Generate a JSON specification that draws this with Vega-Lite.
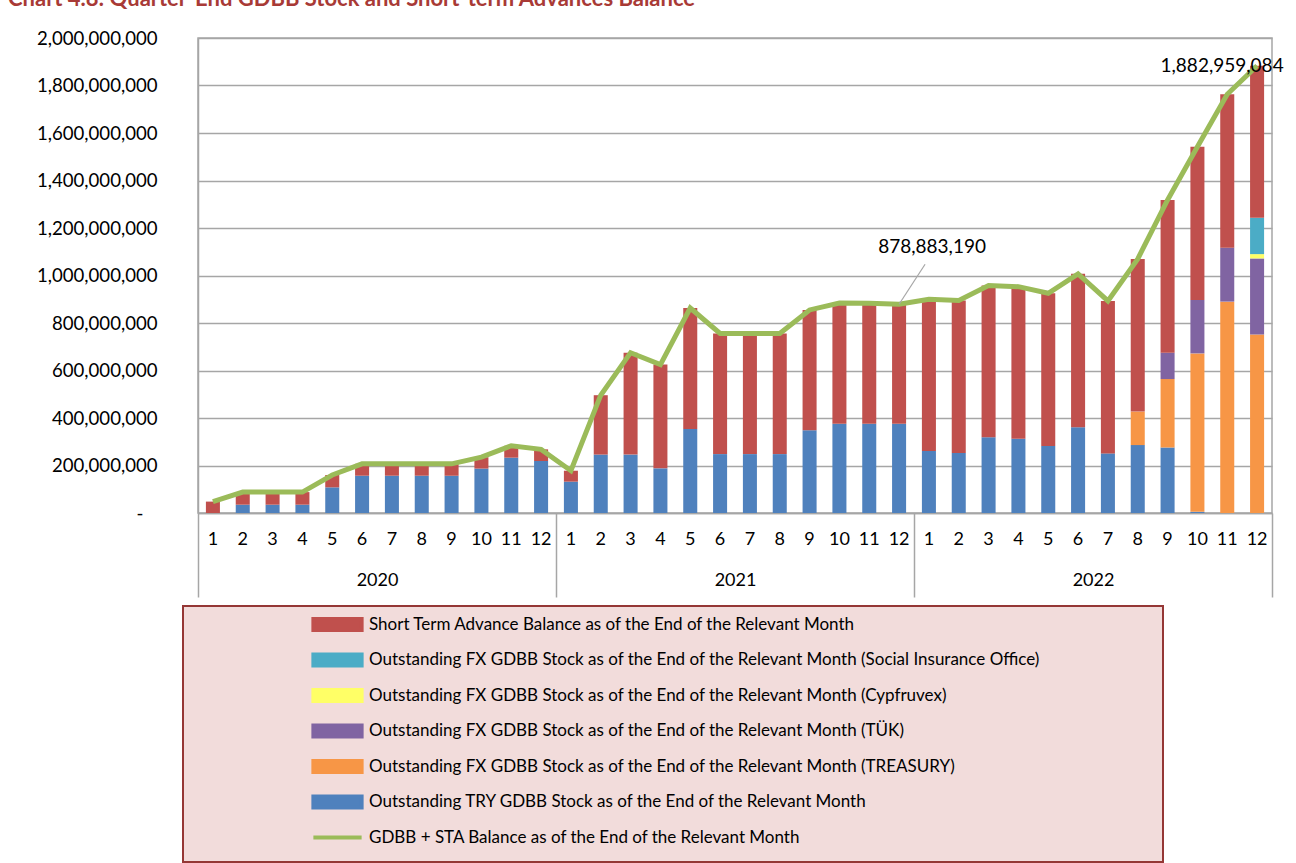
{
  "$schema": "https://vega.github.io/schema/vega-lite/v6.json",
  "width": 1074,
  "height": 475,
  "autosize": {"type": "none"},
  "padding": {"left": 198, "top": 38, "right": 24, "bottom": 350},
  "background": "white",
  "config": {
    "font": "Lato",
    "view": {"stroke": "#a6a6a6", "strokeWidth": 1.5},
    "axis": {"labelFont": "Lato", "labelColor": "#000000", "labelFontSize": 18, "title": null}
  },
  "title": {
    "text": "Chart 4.8: Quarter-End GDBB Stock and Short-term Advances Balance",
    "anchor": "start",
    "frame": "group",
    "font": "Lato",
    "fontSize": 22,
    "fontWeight": "bold",
    "color": "#A83A36",
    "dx": -190,
    "offset": 18
  },
  "data": {
    "values": [
      {"y": 2020, "ym": "2020-01", "tryv": 0, "tre": 0, "tuk": 0, "cyp": 0, "sio": 0, "sta": 48000000, "total": 48000000},
      {"y": 2020, "ym": "2020-02", "tryv": 35000000, "tre": 0, "tuk": 0, "cyp": 0, "sio": 0, "sta": 53000000, "total": 88000000},
      {"y": 2020, "ym": "2020-03", "tryv": 35000000, "tre": 0, "tuk": 0, "cyp": 0, "sio": 0, "sta": 53000000, "total": 88000000},
      {"y": 2020, "ym": "2020-04", "tryv": 35000000, "tre": 0, "tuk": 0, "cyp": 0, "sio": 0, "sta": 53000000, "total": 88000000},
      {"y": 2020, "ym": "2020-05", "tryv": 108000000, "tre": 0, "tuk": 0, "cyp": 0, "sio": 0, "sta": 52000000, "total": 160000000},
      {"y": 2020, "ym": "2020-06", "tryv": 157000000, "tre": 0, "tuk": 0, "cyp": 0, "sio": 0, "sta": 50000000, "total": 207000000},
      {"y": 2020, "ym": "2020-07", "tryv": 157000000, "tre": 0, "tuk": 0, "cyp": 0, "sio": 0, "sta": 50000000, "total": 207000000},
      {"y": 2020, "ym": "2020-08", "tryv": 157000000, "tre": 0, "tuk": 0, "cyp": 0, "sio": 0, "sta": 50000000, "total": 207000000},
      {"y": 2020, "ym": "2020-09", "tryv": 157000000, "tre": 0, "tuk": 0, "cyp": 0, "sio": 0, "sta": 50000000, "total": 207000000},
      {"y": 2020, "ym": "2020-10", "tryv": 187000000, "tre": 0, "tuk": 0, "cyp": 0, "sio": 0, "sta": 48000000, "total": 235000000},
      {"y": 2020, "ym": "2020-11", "tryv": 233000000, "tre": 0, "tuk": 0, "cyp": 0, "sio": 0, "sta": 50000000, "total": 283000000},
      {"y": 2020, "ym": "2020-12", "tryv": 219000000, "tre": 0, "tuk": 0, "cyp": 0, "sio": 0, "sta": 49000000, "total": 268000000},
      {"y": 2021, "ym": "2021-01", "tryv": 132000000, "tre": 0, "tuk": 0, "cyp": 0, "sio": 0, "sta": 46000000, "total": 178000000},
      {"y": 2021, "ym": "2021-02", "tryv": 246000000, "tre": 0, "tuk": 0, "cyp": 0, "sio": 0, "sta": 250000000, "total": 496000000},
      {"y": 2021, "ym": "2021-03", "tryv": 246000000, "tre": 0, "tuk": 0, "cyp": 0, "sio": 0, "sta": 429000000, "total": 675000000},
      {"y": 2021, "ym": "2021-04", "tryv": 188000000, "tre": 0, "tuk": 0, "cyp": 0, "sio": 0, "sta": 437000000, "total": 625000000},
      {"y": 2021, "ym": "2021-05", "tryv": 354000000, "tre": 0, "tuk": 0, "cyp": 0, "sio": 0, "sta": 509000000, "total": 863000000},
      {"y": 2021, "ym": "2021-06", "tryv": 248000000, "tre": 0, "tuk": 0, "cyp": 0, "sio": 0, "sta": 508000000, "total": 756000000},
      {"y": 2021, "ym": "2021-07", "tryv": 248000000, "tre": 0, "tuk": 0, "cyp": 0, "sio": 0, "sta": 508000000, "total": 756000000},
      {"y": 2021, "ym": "2021-08", "tryv": 248000000, "tre": 0, "tuk": 0, "cyp": 0, "sio": 0, "sta": 508000000, "total": 756000000},
      {"y": 2021, "ym": "2021-09", "tryv": 348000000, "tre": 0, "tuk": 0, "cyp": 0, "sio": 0, "sta": 507000000, "total": 855000000},
      {"y": 2021, "ym": "2021-10", "tryv": 376000000, "tre": 0, "tuk": 0, "cyp": 0, "sio": 0, "sta": 508000000, "total": 884000000},
      {"y": 2021, "ym": "2021-11", "tryv": 376000000, "tre": 0, "tuk": 0, "cyp": 0, "sio": 0, "sta": 507000000, "total": 883000000},
      {"y": 2021, "ym": "2021-12", "tryv": 376000000, "tre": 0, "tuk": 0, "cyp": 0, "sio": 0, "sta": 502883190, "total": 878883190},
      {"y": 2022, "ym": "2022-01", "tryv": 261000000, "tre": 0, "tuk": 0, "cyp": 0, "sio": 0, "sta": 639000000, "total": 900000000},
      {"y": 2022, "ym": "2022-02", "tryv": 253000000, "tre": 0, "tuk": 0, "cyp": 0, "sio": 0, "sta": 642000000, "total": 895000000},
      {"y": 2022, "ym": "2022-03", "tryv": 319000000, "tre": 0, "tuk": 0, "cyp": 0, "sio": 0, "sta": 639000000, "total": 958000000},
      {"y": 2022, "ym": "2022-04", "tryv": 313000000, "tre": 0, "tuk": 0, "cyp": 0, "sio": 0, "sta": 640000000, "total": 953000000},
      {"y": 2022, "ym": "2022-05", "tryv": 282000000, "tre": 0, "tuk": 0, "cyp": 0, "sio": 0, "sta": 643000000, "total": 925000000},
      {"y": 2022, "ym": "2022-06", "tryv": 361000000, "tre": 0, "tuk": 0, "cyp": 0, "sio": 0, "sta": 646000000, "total": 1007000000},
      {"y": 2022, "ym": "2022-07", "tryv": 251000000, "tre": 0, "tuk": 0, "cyp": 0, "sio": 0, "sta": 642000000, "total": 893000000},
      {"y": 2022, "ym": "2022-08", "tryv": 286000000, "tre": 141000000, "tuk": 0, "cyp": 0, "sio": 0, "sta": 643000000, "total": 1070000000},
      {"y": 2022, "ym": "2022-09", "tryv": 276000000, "tre": 288000000, "tuk": 111000000, "cyp": 0, "sio": 0, "sta": 643000000, "total": 1318000000},
      {"y": 2022, "ym": "2022-10", "tryv": 5000000, "tre": 667000000, "tuk": 225000000, "cyp": 0, "sio": 0, "sta": 645000000, "total": 1542000000},
      {"y": 2022, "ym": "2022-11", "tryv": 0, "tre": 890000000, "tuk": 227000000, "cyp": 0, "sio": 0, "sta": 646000000, "total": 1763000000},
      {"y": 2022, "ym": "2022-12", "tryv": 0, "tre": 752000000, "tuk": 320000000, "cyp": 18000000, "sio": 153000000, "sta": 639959084, "total": 1882959084}
    ]
  },
  "layer": [
    {
      "layer": [
        {
          "transform": [
            {"fold": ["tryv", "tre", "tuk", "cyp", "sio", "sta"], "as": ["series", "value"]},
            {"calculate": "indexof(['tryv','tre','tuk','cyp','sio','sta'], datum.series)", "as": "ord"}
          ],
          "mark": {"type": "bar", "width": {"band": 0.47}},
          "encoding": {
            "x": {
              "field": "ym", "type": "ordinal", "sort": null,
              "scale": {"type": "band", "paddingInner": 0, "paddingOuter": 0},
              "axis": {
                "orient": "bottom",
                "labelExpr": "toNumber(split(datum.label, '-')[1])",
                "labelAngle": 0,
                "ticks": false,
                "labelPadding": 17,
                "domainColor": "#a6a6a6",
                "domainWidth": 1.5,
                "grid": false
              }
            },
            "y": {
              "field": "value", "type": "quantitative", "stack": "zero",
              "scale": {"domain": [0, 2000000000], "nice": false},
              "axis": {
                "values": [0, 200000000, 400000000, 600000000, 800000000, 1000000000, 1200000000, 1400000000, 1600000000, 1800000000, 2000000000],
                "labelExpr": "datum.value == 0 ? '-\u2800' : format(datum.value, ',')",
                "labelFontSize": 18.6,
                "ticks": false,
                "labelPadding": 41,
                "domainColor": "#a6a6a6",
                "domainWidth": 1.5,
                "gridColor": "#a6a6a6",
                "gridWidth": 1.5
              }
            },
            "color": {
              "field": "series", "type": "nominal",
              "scale": {
                "domain": ["sta", "sio", "cyp", "tuk", "tre", "tryv", "line"],
                "range": ["#C0504D", "#4BACC6", "#FFFF66", "#8064A2", "#F79646", "#4F81BD", "#9BBB59"]
              },
              "legend": {
                "orient": "none",
                "legendX": -15,
                "legendY": 568,
                "title": null,
                "fillColor": "#F2DCDB",
                "strokeColor": "#953735",
                "padding": 10,
                "symbolOffset": 136,
                "labelOffset": 23,
                "rowPadding": 6.5,
                "symbolSize": 144,
                "labelFont": "Lato",
                "labelFontSize": 17,
                "labelColor": "#000000",
                "labelLimit": 0,
                "labelExpr": "(datum.label == 'sta' ? 'Short Term Advance Balance as of the End of the Relevant Month' : datum.label == 'sio' ? 'Outstanding FX GDBB Stock as of the End of the Relevant Month (Social Insurance Office)' : datum.label == 'cyp' ? 'Outstanding FX GDBB Stock as of the End of the Relevant Month (Cypfruvex)' : datum.label == 'tuk' ? 'Outstanding FX GDBB Stock as of the End of the Relevant Month (TÜK)' : datum.label == 'tre' ? 'Outstanding FX GDBB Stock as of the End of the Relevant Month (TREASURY)' : datum.label == 'tryv' ? 'Outstanding TRY GDBB Stock as of the End of the Relevant Month' : 'GDBB + STA Balance as of the End of the Relevant Month') + '\u00a0\u2800\u2800\u2800\u2800\u2800\u2800\u2800\u2800\u2800'",
                "encode": {
                  "legend": {"update": {"strokeWidth": {"value": 2}}},
                  "symbols": {
                    "update": {
                      "shape": [{"test": "datum.value == 'line'", "value": "M-4.02,-0.93M-4.02,0H4.02M4.02,0.93"}, {"value": "M-4.02,-0.93H4.02V0.93H-4.02Z"}],
                      "fill": [{"test": "datum.value == 'line'", "value": "transparent"}, {"scale": "color", "field": "value"}],
                      "stroke": [{"test": "datum.value == 'line'", "value": "#9BBB59"}, {"value": "transparent"}],
                      "strokeWidth": {"value": 4},
                      "opacity": {"value": 1},
                      "fillOpacity": {"value": 1}
                    }
                  }
                }
              }
            },
            "order": {"field": "ord", "type": "quantitative", "sort": "ascending"}
          }
        },
        {
          "mark": {"type": "line", "strokeWidth": 5},
          "encoding": {
            "x": {"field": "ym", "type": "ordinal", "sort": null},
            "y": {"field": "total", "type": "quantitative"},
            "color": {"datum": "line"}
          }
        },
        {
          "transform": [{"filter": "datum.ym == '2021-12'"}],
          "mark": {"type": "rule", "color": "#a6a6a6", "strokeWidth": 1.2, "x2Offset": 26, "y2Offset": -40},
          "encoding": {
            "x": {"field": "ym", "type": "ordinal", "sort": null},
            "x2": {"field": "ym"},
            "y": {"field": "total", "type": "quantitative"},
            "y2": {"field": "total"}
          }
        },
        {
          "transform": [{"filter": "datum.ym == '2021-12'"}],
          "mark": {"type": "text", "fontSize": 19, "font": "Lato", "color": "#000000", "dx": 33, "dy": -57, "align": "center", "baseline": "middle"},
          "encoding": {
            "x": {"field": "ym", "type": "ordinal", "sort": null},
            "y": {"field": "total", "type": "quantitative"},
            "text": {"field": "total", "type": "quantitative", "format": ","}
          }
        },
        {
          "transform": [{"filter": "datum.ym == '2022-12'"}],
          "mark": {"type": "text", "fontSize": 19, "font": "Lato", "color": "#000000", "dx": -35, "dy": 0, "align": "center", "baseline": "middle"},
          "encoding": {
            "x": {"field": "ym", "type": "ordinal", "sort": null},
            "y": {"field": "total", "type": "quantitative"},
            "text": {"field": "total", "type": "quantitative", "format": ","}
          }
        }
      ]
    },
    {
      "mark": {"type": "rule", "opacity": 0},
      "encoding": {
        "x": {
          "field": "y", "type": "ordinal",
          "scale": {"type": "band", "paddingInner": 0, "paddingOuter": 0},
          "axis": {
            "orient": "bottom",
            "offset": 0,
            "labelAngle": 0,
            "domain": false,
            "grid": false,
            "ticks": true,
            "tickBand": "extent",
            "tickSize": 84,
            "tickColor": "#a6a6a6",
            "tickWidth": 1.5,
            "labelPadding": -26
          }
        }
      }
    }
  ],
  "resolve": {"scale": {"x": "independent"}}
}
